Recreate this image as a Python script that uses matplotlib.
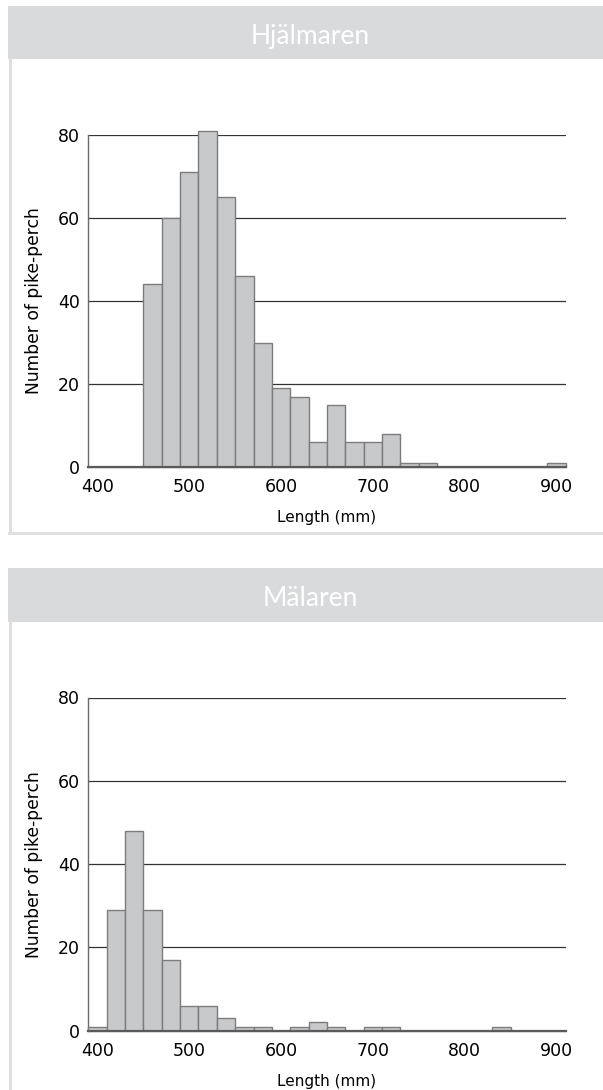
import matplotlib
matplotlib.use("Agg")
import matplotlib.pyplot as plt
from matplotlib.patches import Rectangle
from matplotlib.lines import Line2D

# ---- data ----
bin_starts = [390, 410, 430, 450, 470, 490, 510, 530, 550, 570, 590, 610, 630,
              650, 670, 690, 710, 730, 750, 770, 790, 810, 830, 850, 870, 890]
bin_width = 20
hjalmaren_counts = [0, 0, 0, 44, 60, 71, 81, 65, 46, 30, 19, 17, 6,
                    15, 6, 6, 8, 1, 1, 0, 0, 0, 0, 0, 0, 1]
malaren_counts = [1, 29, 48, 29, 17, 6, 6, 3, 1, 1, 0, 1, 2,
                  1, 0, 1, 1, 0, 0, 0, 0, 0, 1, 0, 0, 0]
panel_titles = ["Hjälmaren", "Mälaren"]
x_ticks = [400, 500, 600, 700, 800, 900]
y_ticks = [0, 20, 40, 60, 80]
x_label = "Length (mm)"
y_label = "Number of pike-perch"

W, H = 603, 1090
DPI = 100
fig = plt.figure(figsize=(W / DPI, H / DPI), dpi=DPI)
fig.patch.set_facecolor("white")

def fx(px):
    return px / W

def fy(py):
    return 1 - py / H

header_col = "#d9dadc"
border_col = "#dedfe0"
bar_face = "#c8c9cb"
bar_edge = "#7c7c7c"

panels = [
    dict(title=panel_titles[0], counts=hjalmaren_counts, head_top=6, head_bot=59,
         ax_top=134.7, ax_bot=467.3, panel_bot=533),
    dict(title=panel_titles[1], counts=malaren_counts, head_top=568, head_bot=622,
         ax_top=697.5, ax_bot=1030.7, panel_bot=None),
]

for p in panels:
    # header band
    fig.patches.append(Rectangle((fx(8), fy(p["head_bot"])), fx(W) - fx(8),
                                 fy(p["head_top"]) - fy(p["head_bot"]),
                                 transform=fig.transFigure, facecolor=header_col,
                                 edgecolor="none", zorder=0))
    fig.text(fx(310), fy(p["head_top"] + 38), p["title"], color="white",
             fontsize=19, family=["Lato", "DejaVu Sans"], fontweight="normal",
             ha="center", va="baseline")
    # left border
    bot = p["panel_bot"] if p["panel_bot"] is not None else H
    fig.lines.append(Line2D([fx(9.5), fx(9.5)], [fy(p["head_bot"]), fy(bot)],
                            transform=fig.transFigure, color=border_col, lw=2.2))
    if p["panel_bot"] is not None:
        fig.lines.append(Line2D([fx(8.5), fx(W)], [fy(bot), fy(bot)],
                                transform=fig.transFigure, color=border_col, lw=2.0))

    left, right = 88.3, 565.7
    ax = fig.add_axes([fx(left), fy(p["ax_bot"]), fx(right - left),
                       fy(p["ax_top"]) - fy(p["ax_bot"])])
    ax.set_xlim(390, 910)
    ax.set_ylim(0, 80)
    ax.bar(bin_starts, p["counts"], width=bin_width, align="edge",
           color=bar_face, edgecolor=bar_edge, linewidth=1.0, zorder=3,
           clip_on=False)
    ax.set_yticks(y_ticks)
    ax.set_xticks(x_ticks)
    ax.yaxis.grid(True, color="#333333", linewidth=0.9, zorder=1)
    ax.set_axisbelow(True)
    for s in ["top", "right"]:
        ax.spines[s].set_visible(False)
    ax.spines["left"].set_color("#6a6a6a")
    ax.spines["left"].set_linewidth(1.0)
    ax.spines["bottom"].set_color("#5a5a5a")
    ax.spines["bottom"].set_linewidth(1.6)
    ax.spines["bottom"].set_zorder(4)
    ax.tick_params(axis="both", length=0, labelsize=12.5, colors="black")
    ax.tick_params(axis="y", pad=6)
    ax.tick_params(axis="x", pad=8)
    ax.set_xlabel(x_label, fontsize=11, labelpad=10)
    ax.set_ylabel(y_label, fontsize=12.3, labelpad=11)

fig.savefig("out.png", dpi=DPI)
